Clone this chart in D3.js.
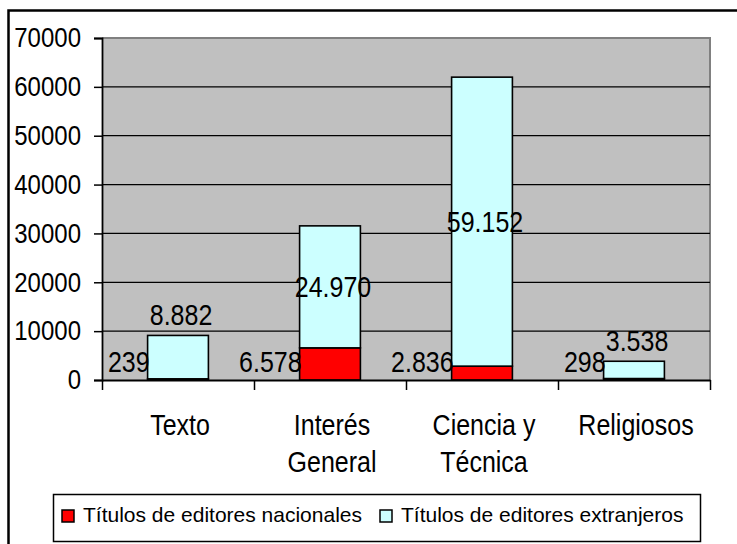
<!DOCTYPE html>
<html><head><meta charset="utf-8">
<script src="https://cdn.jsdelivr.net/npm/d3@7"></script>
<style>
body{margin:0;background:#fff;}
text{font-family:"Liberation Sans",Arial,sans-serif;fill:#000;}
</style></head>
<body>
<svg id="chart" width="737" height="544"></svg>
<script>
const categories = ["Texto", "Interés General", "Ciencia y Técnica", "Religiosos"];
const categoryLines = [["Texto"], ["Interés", "General"], ["Ciencia y", "Técnica"], ["Religiosos"]];
const nacionales = [239, 6578, 2836, 298];
const extranjeros = [8882, 24970, 59152, 3538];
const seriesNames = ["Títulos de editores nacionales", "Títulos de editores extranjeros"];
const yTicks = [0, 10000, 20000, 30000, 40000, 50000, 60000, 70000];

const colors = ["#ff0000", "#ccffff"];
const svg = d3.select("#chart");
const L = 102, R = 710, T = 38, B = 380;
const SY = 1.15; // vertical stretch of the lettering

const es = d3.formatLocale({decimal: ",", thousands: ".", grouping: [3], currency: ["", ""]});
const fmt = es.format(",d");

// outer frame
svg.append("rect").attr("x", 8.5).attr("y", 10.5).attr("width", 760).attr("height", 560)
  .attr("fill", "#fff").attr("stroke", "#000").attr("stroke-width", 2.5);

const y = d3.scaleLinear().domain([0, 70000]).range([B, T]);
const x = d3.scaleBand().domain(categories).range([L, R]).paddingInner(0.6).paddingOuter(0.3);
const xb = d3.scaleBand().domain(categories).range([L, R]).padding(0);

// plot area
svg.append("rect").attr("x", L).attr("y", T).attr("width", R - L).attr("height", B - T).attr("fill", "#c0c0c0");
svg.append("path").attr("d", `M${L},${T}H${R}V${B}`).attr("fill", "none").attr("stroke", "#808080").attr("stroke-width", 2);

// gridlines
svg.append("g").selectAll("line").data(yTicks.filter(v => v > 0 && v < 70000)).join("line")
  .attr("x1", L).attr("x2", R).attr("y1", d => y(d)).attr("y2", d => y(d))
  .attr("stroke", "#000").attr("stroke-width", 1.2);

// stacked bars
const stackData = categories.map((c, i) => ({cat: c, nac: nacionales[i], ext: extranjeros[i]}));
const stack = d3.stack().keys(["nac", "ext"])(stackData);
const gBars = svg.append("g");
stack.forEach((layer, li) => {
  gBars.append("g").selectAll("rect").data(layer).join("rect")
    .attr("x", d => x(d.data.cat)).attr("width", x.bandwidth())
    .attr("y", d => y(d[1])).attr("height", d => y(d[0]) - y(d[1]))
    .attr("fill", colors[li]).attr("stroke", "#000").attr("stroke-width", 1.6);
});

// y axis
const yAxis = svg.append("g").attr("transform", `translate(${L},0)`)
  .call(d3.axisLeft(y).tickValues(yTicks).tickFormat(d3.format("d")).tickSize(8).tickPadding(13));
yAxis.select(".domain").attr("stroke", "#000").attr("stroke-width", 1.8);
yAxis.selectAll(".tick line").attr("stroke", "#000").attr("stroke-width", 1.5);
yAxis.selectAll(".tick text").attr("font-size", 24).attr("transform", `scale(1,${SY})`)
  .style("font-family", '"Liberation Sans", Arial, sans-serif').attr("fill", "#000");

// x axis (ticks at category boundaries)
const xEdge = d3.scaleLinear().domain([0, categories.length]).range([L, R]);
const xAxis = svg.append("g").attr("transform", `translate(0,${B})`)
  .call(d3.axisBottom(xEdge).tickValues(d3.range(categories.length + 1)).tickFormat("").tickSizeInner(10).tickSizeOuter(0));
xAxis.select(".domain").attr("stroke", "#000").attr("stroke-width", 1.8);
xAxis.selectAll(".tick line").attr("stroke", "#000").attr("stroke-width", 1.5);

// category labels
categories.forEach((c, i) => {
  categoryLines[i].forEach((line, k) => {
    svg.append("text").attr("text-anchor", "middle").attr("font-size", 25)
      .attr("transform", `translate(${xb(c) + xb.bandwidth() / 2 + 2},${435 + k * 37}) scale(1,${SY})`)
      .text(line);
  });
});

// data labels: national (left of bar, at base)
stackData.forEach((d, i) => {
  svg.append("text").attr("text-anchor", "end").attr("font-size", 25)
    .attr("transform", `translate(${x(d.cat) + 2},${B - 8}) scale(1,${SY})`)
    .text(fmt(nacionales[i]));
});
// data labels: foreign (centred in segment, lifted above short bars)
stackData.forEach((d, i) => {
  const top = y(d.nac + d.ext);
  const segH = y(d.nac) - top;
  const cy = segH > 60 ? top + segH / 2 : top - 21;
  svg.append("text").attr("text-anchor", "middle").attr("font-size", 25)
    .attr("transform", `translate(${x(d.cat) + x.bandwidth() / 2 + 3},${cy + 10.5}) scale(1,${SY})`)
    .text(fmt(extranjeros[i]));
});

// legend
svg.append("rect").attr("x", 53.5).attr("y", 494.5).attr("width", 647).attr("height", 47)
  .attr("fill", "#fff").attr("stroke", "#000").attr("stroke-width", 1.5);
const legX = [62, 380];
seriesNames.forEach((n, i) => {
  svg.append("rect").attr("x", legX[i]).attr("y", 510).attr("width", 12).attr("height", 12)
    .attr("fill", colors[i]).attr("stroke", "#000").attr("stroke-width", 1.5);
  svg.append("text").attr("x", legX[i] + 21).attr("y", 522).attr("font-size", 21).text(n);
});
</script>
</body></html>
